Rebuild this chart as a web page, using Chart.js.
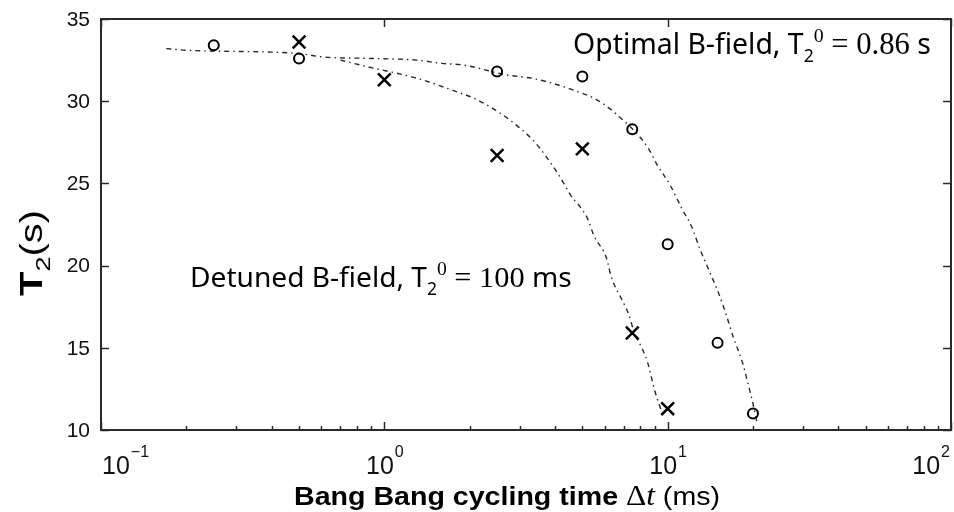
<!DOCTYPE html>
<html>
<head>
<meta charset="utf-8">
<script src="https://cdn.jsdelivr.net/npm/chart.js@4/dist/chart.umd.min.js"></script>
<style>
  html, body { margin: 0; padding: 0; background: #fff; }
  #wrap { width: 954px; height: 512px; }
</style>
</head>
<body>
<div id="wrap"><canvas id="chart" width="954" height="512"></canvas></div>
<script>
"use strict";

// measured T2 (s) vs cycling time (ms): circles = optimal field, crosses = detuned field
var optimalDt = [0.25, 0.5, 2.5, 5, 7.5, 10, 15, 20];
var optimalT2 = [33.4, 32.6, 31.8, 31.5, 28.3, 21.3, 15.3, 11.0];
var detunedDt = [0.5, 1, 2.5, 5, 7.5, 10];
var detunedT2 = [33.6, 31.3, 26.7, 27.1, 15.9, 11.3];

// fitted curves
var optimalFitDt = [0.17, 0.2, 0.5, 0.6, 0.9, 1.3, 1.6, 1.9, 2.7, 3.3, 3.9, 4.6, 5.6, 6.5, 8.5, 9.2, 10.2, 11.2, 12.2, 13, 14, 15.1, 16.1, 17, 18.3, 19.1, 20, 20.7];
var optimalFitT2 = [33.2, 33.1, 32.9, 32.7, 32.6, 32.5, 32.3, 32.2, 31.6, 31.4, 31.1, 30.7, 30.1, 29.3, 27.2, 26.1, 24.9, 23.5, 22.3, 21.0, 19.7, 18.35, 17.0, 15.7, 14.2, 13.0, 11.6, 10.4];
var detunedFitDt = [0.7, 0.87, 1.3, 1.85, 2.06, 2.55, 2.8, 3.36, 3.7, 4.2, 4.5, 5.2, 5.5, 6.1, 6.3, 7.0, 7.3, 7.6, 8.2, 8.5, 9.0, 9.4, 9.7];
var detunedFitT2 = [32.5, 32.1, 31.4, 30.5, 30.2, 29.3, 28.8, 27.6, 26.7, 25.3, 24.4, 22.9, 21.8, 20.4, 19.4, 17.7, 17.0, 16.0, 14.8, 14.1, 12.4, 11.4, 10.8];

var yTicks = [10, 15, 20, 25, 30, 35];
var xTickExponents = [-1, 0, 1, 2];

var SANS = '"Noto Sans", sans-serif';
var SERIF = '"Liberation Serif", serif';
var HELV = '"Liberation Sans", Arial, sans-serif';

function pointsOf(xs, ys) {
    return xs.map(function (x, i) { return { x: x, y: ys[i] }; });
}

// draws a run of text pieces with their own font, size and baseline shift.
// without `size` the font is scaled so the run is `width` px wide;
// with `size` the run is stretched sideways to that width instead
function drawRich(ctx, parts, x, y, width, size) {
    var base = size || 20;
    var total = 0;
    parts.forEach(function (p) {
        ctx.font = (p.w || '') + ' ' + (base * p.s) + 'px ' + p.f;
        total += ctx.measureText(p.t).width;
    });
    var sx = 1;
    if (size) sx = width / total; else base = base * width / total;
    ctx.save();
    ctx.translate(x, y);
    ctx.scale(sx, 1);
    ctx.textAlign = 'left';
    ctx.textBaseline = 'alphabetic';
    var cx = 0;
    parts.forEach(function (p) {
        ctx.font = (p.w || '') + ' ' + (base * p.s) + 'px ' + p.f;
        ctx.fillText(p.t, cx, (p.dy || 0) * base);
        cx += ctx.measureText(p.t).width;
    });
    ctx.restore();
}

function t2Label(prefix, value, unit) {
    return [
        { t: prefix + ', T', f: SANS, s: 1 },
        { t: '2', f: SANS, s: 0.62, dy: 0.28 },
        { t: '0', f: SERIF, s: 0.7, dy: -0.42 },
        { t: ' = ' + value, f: SERIF, s: 1.08 },
        { t: ' ' + unit, f: SANS, s: 1 }
    ];
}

var axesBox = {
    id: 'axesBox',
    afterDraw: function (chart) {
        var ctx = chart.ctx;
        var a = chart.chartArea;
        var xs = chart.scales.x;
        var ys = chart.scales.y;
        ctx.save();
        ctx.strokeStyle = '#2a2a2a';
        ctx.fillStyle = '#111';

        // inward ticks
        ctx.lineWidth = 1.5;
        ctx.beginPath();
        yTicks.forEach(function (v) {
            var py = Math.round(ys.getPixelForValue(v)) + 0.5;
            ctx.moveTo(a.left, py); ctx.lineTo(a.left + 8, py);
            ctx.moveTo(a.right, py); ctx.lineTo(a.right - 8, py);
        });
        xTickExponents.forEach(function (e, i) {
            var px = Math.round(xs.getPixelForValue(Math.pow(10, e))) + 0.5;
            ctx.moveTo(px, a.bottom); ctx.lineTo(px, a.bottom - 8);
            ctx.moveTo(px, a.top); ctx.lineTo(px, a.top + 8);
            if (i < xTickExponents.length - 1) {
                for (var m = 2; m < 10; m++) {
                    var pm = Math.round(xs.getPixelForValue(m * Math.pow(10, e))) + 0.5;
                    ctx.moveTo(pm, a.bottom); ctx.lineTo(pm, a.bottom - 4);
                }
            }
        });
        ctx.stroke();

        // box
        ctx.lineWidth = 2;
        ctx.strokeRect(a.left, a.top, a.right - a.left, a.bottom - a.top);

        // y tick labels
        ctx.font = '21px ' + HELV;
        ctx.textAlign = 'right';
        ctx.textBaseline = 'middle';
        yTicks.forEach(function (v) {
            ctx.fillText(String(v), a.left - 11, ys.getPixelForValue(v) + 1);
        });

        // x tick labels, 10 with a raised exponent
        xTickExponents.forEach(function (e, i) {
            var px = xs.getPixelForValue(Math.pow(10, e));
            var exp = e < 0 ? '\u2212' + (-e) : String(e);
            ctx.font = '25px ' + HELV;
            var w1 = ctx.measureText('10').width;
            ctx.font = '16px ' + HELV;
            var w2 = ctx.measureText(exp).width;
            var left = px - (w1 + w2) / 2;
            if (i === 0) left = px + 1;
            if (i === xTickExponents.length - 1) left = px - (w1 + w2) - 2;
            ctx.textAlign = 'left';
            ctx.textBaseline = 'alphabetic';
            ctx.font = '25px ' + HELV;
            ctx.fillText('10', left, 474);
            ctx.font = '16px ' + HELV;
            ctx.fillText(exp, left + w1 + 1, 457);
        });

        // axis titles
        ctx.fillStyle = '#000';
        drawRich(ctx, [
            { t: 'Bang Bang cycling time ', f: HELV, s: 1, w: 'bold' },
            { t: '\u0394', f: SERIF, s: 1.1 },
            { t: 't', f: SERIF, s: 1.1, w: 'italic' },
            { t: ' (ms)', f: HELV, s: 1 }
        ], 294, 505, 426, 26);

        ctx.save();
        ctx.translate(42, 296);
        ctx.rotate(-Math.PI / 2);
        drawRich(ctx, [
            { t: 'T', f: HELV, s: 1, w: 'bold' },
            { t: '2', f: HELV, s: 0.68, dy: 0.25 },
            { t: '(s)', f: HELV, s: 1 }
        ], 0, 0, 86, 31);
        ctx.restore();

        // curve annotations
        drawRich(ctx, t2Label('Optimal B-field', '0.86', 's'), 573, 54, 358);
        drawRich(ctx, t2Label('Detuned B-field', '100', 'ms'), 190, 287, 382);

        ctx.restore();
    }
};

var fitLine = {
    type: 'scatter',
    showLine: true,
    borderColor: '#2a2a2a',
    borderWidth: 1.4,
    borderDash: [5, 4, 1.5, 4],
    pointRadius: 0,
    cubicInterpolationMode: 'monotone',
    order: 2
};

var ctx = document.getElementById('chart').getContext('2d');

var myChart = new Chart(ctx, {
    type: 'scatter',
    data: {
        datasets: [
            Object.assign({}, fitLine, { label: 'optimal fit', data: pointsOf(optimalFitDt, optimalFitT2) }),
            Object.assign({}, fitLine, { label: 'detuned fit', data: pointsOf(detunedFitDt, detunedFitT2) }),
            {
                label: 'Optimal B-field',
                data: pointsOf(optimalDt, optimalT2),
                pointStyle: 'circle',
                pointRadius: 5,
                borderColor: '#000',
                backgroundColor: 'rgba(255,255,255,0)',
                borderWidth: 2,
                order: 1
            },
            {
                label: 'Detuned B-field',
                data: pointsOf(detunedDt, detunedT2),
                pointStyle: 'crossRot',
                pointRadius: 9,
                borderColor: '#000',
                borderWidth: 2.5,
                order: 1
            }
        ]
    },
    options: {
        responsive: false,
        animation: false,
        layout: { autoPadding: false, padding: { left: 101, right: 3, top: 19, bottom: 82 } },
        plugins: {
            legend: { display: false },
            tooltip: { enabled: false }
        },
        scales: {
            x: { type: 'logarithmic', min: 0.1, max: 100, display: false },
            y: { type: 'linear', min: 10, max: 35, display: false }
        }
    },
    plugins: [axesBox]
});
</script>
</body>
</html>
